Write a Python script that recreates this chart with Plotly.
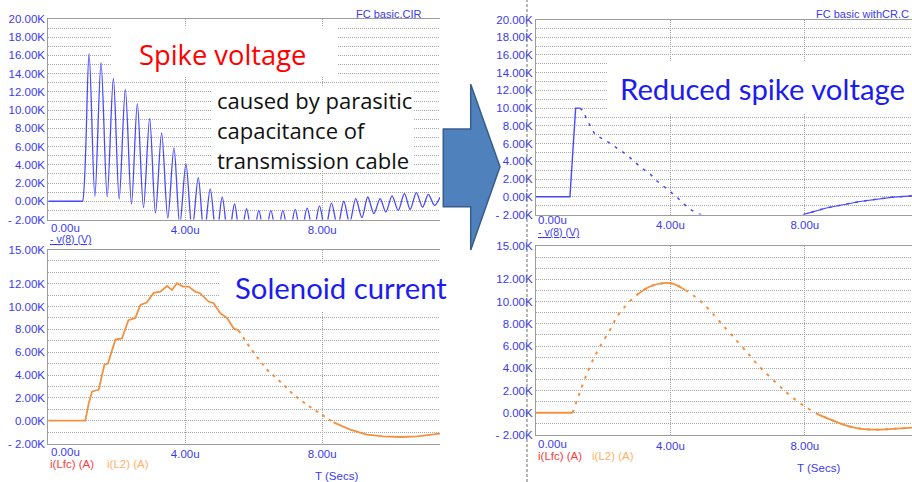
import plotly.graph_objects as go

W, H = 912, 482

# ---- waveform data (time in microseconds) ----
# v(8) without the CR snubber: ringing spike voltage
spike_t = [0.00, 0.97, 1.00, 1.19, 1.36, 1.54, 1.72, 1.90, 2.07, 2.25, 2.43, 2.60, 2.78,
           2.96, 3.13, 3.31, 3.49, 3.67, 3.84, 4.02, 4.20, 4.38, 4.55, 4.73, 4.91, 5.08,
           5.26, 5.44, 5.61, 5.79, 5.97, 6.15, 6.32, 6.50, 6.68, 6.85, 7.03, 7.21, 7.38,
           7.56, 7.74, 7.92, 8.09, 8.27, 8.45, 8.63, 8.80, 8.98, 9.16, 9.33, 9.51, 9.69,
           9.86, 10.04, 10.22, 10.40, 10.57, 10.75, 10.93, 11.10, 11.28, 11.44]
spike_v = [0, 0, 0, 16200, 550, 15200, 500, 13500, 250, 12300, -300, 10700, -700,
           9100, -1300, 7500, -1850, 5850, -2600, 4100, -3200, 2600, -3700, 1350, -4000, 450,
           -4200, -300, -4300, -800, -4300, -1000, -4300, -1000, -4200, -1000, -4000, -900, -3800,
           -750, -3500, -500, -3200, -200, -2800, 0, -2400, 300, -1800, 470, -1350, 300,
           -1180, 600, -1000, 850, -900, 950, -650, 750, -450, 450]

# v(8) with the CR snubber
reduced_t = [0.00, 1.01, 1.18, 1.31, 1.43, 1.49, 1.76, 2.20, 2.70, 3.15, 3.39, 3.56, 3.79,
             3.99, 4.19, 4.53, 4.78, 5.60, 6.50, 7.40, 8.00, 8.64, 9.64, 10.63, 11.19]
reduced_v = [0, 0, 10000, 10000, 9600, 8870, 7000, 6050, 4730, 3230, 2600, 1900, 1160,
             600, -30, -1270, -1840, -3000, -3500, -2900, -1950, -1270, -530, -30, 100]

# solenoid current without snubber
coil_t = [0.00, 1.08, 1.18, 1.28, 1.47, 1.64, 1.74, 1.96, 2.15, 2.34, 2.54, 2.69, 2.87,
          3.08, 3.27, 3.47, 3.61, 3.76, 3.93, 4.10, 4.29, 4.43, 4.68, 4.83, 5.02, 5.22,
          5.41, 5.56, 5.80, 6.09, 6.39, 6.87, 7.16, 7.55, 7.99, 8.33, 8.82, 9.30, 9.79,
          10.28, 10.77, 11.44]
coil_i = [0, 0, 1500, 2560, 2700, 4900, 5000, 7100, 7200, 8800, 9000, 10150, 10350,
          11200, 11300, 11800, 11450, 12050, 11750, 11750, 11300, 11170, 10440, 10300, 9420, 9000,
          8100, 7900, 6800, 5600, 4460, 3150, 2270, 1400, 520, -150, -790, -1220, -1370,
          -1430, -1370, -1140]

# solenoid current with snubber
coil_cr_t = [0.00, 1.09, 1.30, 1.51, 1.71, 1.93, 2.25, 2.40, 2.65, 3.00, 3.39, 3.79, 4.09,
             4.44, 4.73, 4.98, 5.28, 5.58, 5.92, 6.32, 6.62, 7.16, 7.41, 7.71, 8.06, 8.40,
             8.75, 9.15, 9.64, 10.14, 10.63, 11.19]
coil_cr_i = [0, 0, 1800, 3500, 4850, 6100, 7700, 8600, 9550, 10600, 11360, 11660, 11600,
             11050, 10450, 9800, 8850, 7800, 6660, 5300, 4240, 2660, 1960, 1200, 450, -150,
             -600, -1060, -1430, -1520, -1450, -1340]

# ---- axis ticks ----
volt_ticks = [-2000, 0, 2000, 4000, 6000, 8000, 10000, 12000, 14000, 16000, 18000, 20000]
volt_tick_text = ["- 2.00K", "0.00K", "2.00K", "4.00K", "6.00K", "8.00K", "10.00K",
                  "12.00K", "14.00K", "16.00K", "18.00K", "20.00K"]
amp_ticks = [-2000, 0, 2000, 4000, 6000, 8000, 10000, 12000, 15000]
amp_tick_text = ["- 2.00K", "0.00K", "2.00K", "4.00K", "6.00K", "8.00K", "10.00K",
                 "12.00K", "15.00K"]
time_ticks = [4, 8]
time_tick_text = ["4.00u", "8.00u"]

# ---- styling ----
TICK_FONT = "Liberation Sans"
SLIDE_FONT = "Lato"
WIDE_FONT = "Open Sans"
TICK_BLUE = "#3a3af2"
TRACE_BLUE = "#4848ff"
ORANGE = "#f39140"
GRID = "#a6a6a6"
AXIS = "#9c9c9c"


def fx(px):
    return px / W


def fy(py):
    return 1 - py / H


# panel boxes in pixels: left, right, top, bottom, time span
panels = {
    "tl": dict(l=48.3, r=440, t=19, b=219.5, tmax=11.44),
    "tr": dict(l=536, r=912, t=19.5, b=214.5, tmax=11.19),
    "bl": dict(l=48.3, r=440, t=249.5, b=443.5, tmax=11.44),
    "br": dict(l=536, r=912, t=246, b=435, tmax=11.19),
}
axis_ids = {"tl": ("x", "y"), "tr": ("x2", "y2"), "bl": ("x3", "y3"), "br": ("x4", "y4")}
layout_keys = {"tl": ("xaxis", "yaxis"), "tr": ("xaxis2", "yaxis2"),
               "bl": ("xaxis3", "yaxis3"), "br": ("xaxis4", "yaxis4")}

fig = go.Figure()

grid_common = dict(gridcolor=GRID, griddash="1px,1px", gridwidth=1)
layout_axes = {}
for key, p in panels.items():
    xa, ya = axis_ids[key]
    xk, yk = layout_keys[key]
    is_volt = key in ("tl", "tr")
    layout_axes[xk] = dict(
        domain=[fx(p["l"]), fx(p["r"])], range=[0, p["tmax"]], anchor=ya,
        tickmode="array", tickvals=time_ticks, ticktext=time_tick_text, ticks="",
        showline=True, mirror=True, linecolor=AXIS, linewidth=1,
        showgrid=True, zeroline=False, fixedrange=True, automargin=False,
        tickfont=dict(family=TICK_FONT, size=11.5, color=TICK_BLUE),
        **grid_common,
    )
    layout_axes[yk] = dict(
        domain=[fy(p["b"]), fy(p["t"])],
        range=[-2000, 20000] if is_volt else [-2000, 15000], anchor=xa,
        tickmode="array",
        tickvals=volt_ticks if is_volt else amp_ticks,
        ticktext=volt_tick_text if is_volt else amp_tick_text,
        ticks="", showline=True, linecolor=AXIS, linewidth=1,
        showgrid=True, zeroline=False, fixedrange=True, automargin=False,
        minor=dict(tickmode="linear", tick0=0, dtick=1000, showgrid=True, ticks="",
                   gridcolor=GRID, griddash="1px,1px", gridwidth=1),
        tickfont=dict(family=TICK_FONT, size=11.5, color=TICK_BLUE),
        **grid_common,
    )


def add_line(key, t, v, color, width, shape="linear", dash="solid"):
    xa, ya = axis_ids[key]
    fig.add_trace(go.Scatter(
        x=t, y=v, mode="lines", xaxis=xa, yaxis=ya, hoverinfo="skip", showlegend=False,
        line=dict(color=color, width=width, shape=shape, dash=dash,
                  smoothing=0.9 if shape == "spline" else None),
    ))


# spike voltage, no snubber
add_line("tl", spike_t, spike_v, TRACE_BLUE, 1.3, shape="spline")

# reduced spike voltage: solid edges, sparse dotted decay
add_line("tr", reduced_t[:4], reduced_v[:4], TRACE_BLUE, 1.4)
add_line("tr", reduced_t[3:], reduced_v[3:], TRACE_BLUE, 1.5, dash="3px,6px")
add_line("tr", reduced_t[20:], reduced_v[20:], TRACE_BLUE, 1.2)

# solenoid current, no snubber
add_line("bl", coil_t[:28], coil_i[:28], ORANGE, 1.8)
add_line("bl", coil_t[27:36], coil_i[27:36], ORANGE, 2, dash="3px,5px")
add_line("bl", coil_t[35:], coil_i[35:], ORANGE, 1.8)

# solenoid current with snubber
add_line("br", coil_cr_t[:2], coil_cr_i[:2], ORANGE, 1.8)
add_line("br", coil_cr_t[1:], coil_cr_i[1:], ORANGE, 2, shape="spline", dash="3px,6px")
add_line("br", coil_cr_t[9:14], coil_cr_i[9:14], ORANGE, 1.8, shape="spline")
add_line("br", coil_cr_t[25:], coil_cr_i[25:], ORANGE, 1.8, shape="spline")

# ---- shapes ----
shapes = []


def white_box(l, r, t, b):
    # opaque text-box background laid over the grid
    shapes.append(dict(
        type="rect", xref="paper", yref="paper", layer="above",
        x0=fx(l), x1=fx(r), y0=fy(b), y1=fy(t),
        fillcolor="white", line=dict(width=0),
    ))


white_box(111, 338, 26, 77)
white_box(212, 414, 86, 171)
white_box(607, 912, 62, 114)
white_box(220, 439.5, 264, 311)

# block arrow between the two cases
arrow_px = [(443.3, 129), (470.7, 129), (470.7, 84.3), (500, 166.7),
            (470.7, 250), (470.7, 206.7), (443.3, 206.7)]
path = "M " + " L ".join(f"{fx(x):.5f},{fy(y):.5f}" for x, y in arrow_px) + " Z"
shapes.append(dict(type="path", xref="paper", yref="paper", path=path, layer="above",
                   fillcolor="#4f81bd", line=dict(color="#385d8a", width=1.5)))

# dashed divider
shapes.append(dict(type="line", xref="paper", yref="paper", layer="above",
                   x0=fx(527), x1=fx(527), y0=0, y1=1,
                   line=dict(color="#6e6e6e", width=1, dash="3px,2px")))

# ---- annotations ----
annotations = []


def note(text, x, y, size, color, family=TICK_FONT, xanchor="left", yanchor="middle"):
    annotations.append(dict(
        text=text, x=fx(x), y=fy(y), xref="paper", yref="paper",
        xanchor=xanchor, yanchor=yanchor, showarrow=False, align="left",
        font=dict(family=family, size=size, color=color),
    ))


# first time labels sit flush with the axis start
note("0.00u", 48.5, 228, 11.5, TICK_BLUE)
note("0.00u", 536, 220.5, 11.5, TICK_BLUE)
note("0.00u", 48.5, 452, 11.5, TICK_BLUE)
note("0.00u", 536, 443.5, 11.5, TICK_BLUE)

note("<u>- v(8) (V)</u>", 48, 239, 10.5, TICK_BLUE)
note("<u>- v(8) (V)</u>", 536, 232, 10.5, TICK_BLUE)

note("FC basic.CIR", 423, 14, 11, TICK_BLUE, xanchor="right")
note("FC basic withCR.C", 911, 14, 11, TICK_BLUE, xanchor="right")

note("i(Lfc) (A)", 48, 463.5, 11.5, "#ff3c3c")
note("i(L2) (A)", 105, 463.5, 11.5, "#ffb166")
note("i(Lfc) (A)", 536, 456, 11.5, "#ff3c3c")
note("i(L2) (A)", 590, 456, 11.5, "#ffb166")
note("T (Secs)", 313, 476, 11.5, TICK_BLUE)
note("T (Secs)", 795, 468, 11.5, TICK_BLUE)

note("Spike voltage", 137, 54, 27.3, "#ff0000", family=WIDE_FONT)
note("caused by parasitic", 215, 100, 22, "#111111", family=WIDE_FONT)
note("capacitance of", 215, 130, 22, "#111111", family=WIDE_FONT)
note("transmission cable", 215, 160, 22, "#111111", family=WIDE_FONT)
note("Reduced spike voltage", 618, 88, 29.3, "#1c1cf0", family=SLIDE_FONT)
note("Solenoid current", 233, 287, 29.3, "#1c1cf0", family=SLIDE_FONT)

fig.update_layout(
    width=W, height=H, margin=dict(l=0, r=0, t=0, b=0, autoexpand=False),
    paper_bgcolor="white", plot_bgcolor="white",
    showlegend=False, shapes=shapes, annotations=annotations,
    **layout_axes,
)

fig.write_html("out.html", config={"displayModeBar": False})
